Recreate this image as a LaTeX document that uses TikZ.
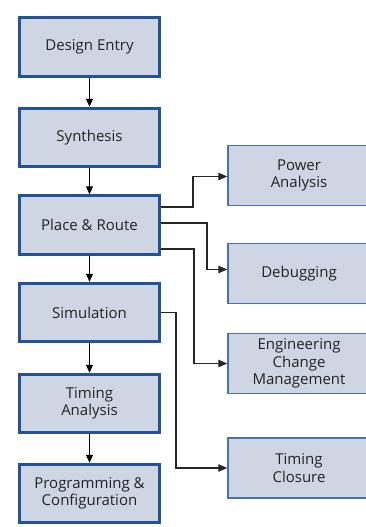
\documentclass[tikz,border=0pt]{standalone}
\usepackage{fontspec}
\setmainfont{Open Sans}
\usetikzlibrary{arrows.meta}
\definecolor{boxfill}{RGB}{206,214,228}
\definecolor{leftedge}{RGB}{36,82,152}
\definecolor{rightedge}{RGB}{70,112,180}
\definecolor{txt}{RGB}{35,35,35}
\begin{document}
\begin{tikzpicture}[x=1pt,y=-1pt,
  base/.style={rectangle, fill=boxfill, align=center, text=txt,
    font=\fontsize{15}{17.5}\selectfont, inner sep=0pt},
  mainbox/.style={base, draw=leftedge, line width=3pt, minimum width=140pt, minimum height=58.5pt},
  sidebox/.style={base, draw=rightedge, line width=1.5pt, minimum width=142pt, minimum height=60pt},
  flow/.style={draw=black, line width=1.1pt, -{Triangle[length=8pt,width=7pt]}},
  branch/.style={draw=black!85, line width=1.2pt, -{Triangle[length=9pt,width=7.5pt]}}
]
\useasboundingbox[fill=white] (0,0) rectangle (365,527);

\node[mainbox] (de)  at (89.5,47)    {Design Entry};
\node[mainbox] (syn) at (89.5,137.5) {Synthesis};
\node[mainbox] (pr)  at (89.5,225)   {Place \& Route};
\node[mainbox] (sim) at (89.5,312.5) {Simulation};
\node[mainbox] (ta)  at (89.5,403.5) {Timing\\Analysis};
\node[mainbox] (pc)  at (89.5,493.5) {Programming \&\\Configuration};

\node[sidebox] (pa)  at (299,175.5) {Power\\Analysis};
\node[sidebox] (deb) at (299,273.5) {Debugging};
\node[sidebox] (ecm) at (299,363.5) {Engineering\\Change\\Management};
\node[sidebox] (tc)  at (299,468)   {Timing\\Closure};

\draw[flow] (de) -- (syn);
\draw[flow] (syn) -- (pr);
\draw[flow] (pr) -- (sim);
\draw[flow] (sim) -- (ta);
\draw[flow] (ta) -- (pc);

\draw[branch] ([yshift=18pt]pr.east) -- ++(32pt,0) |- ([yshift=-1pt]pa.west);
\draw[branch] ([yshift=2pt]pr.east) -- ++(46pt,0) |- ([yshift=4pt]deb.west);
\draw[branch] ([yshift=-24pt]pr.east) -- ++(33pt,0) |- (ecm.west);
\draw[branch] (sim.east) -- ++(15pt,0) |- (tc.west);
\end{tikzpicture}
\end{document}
